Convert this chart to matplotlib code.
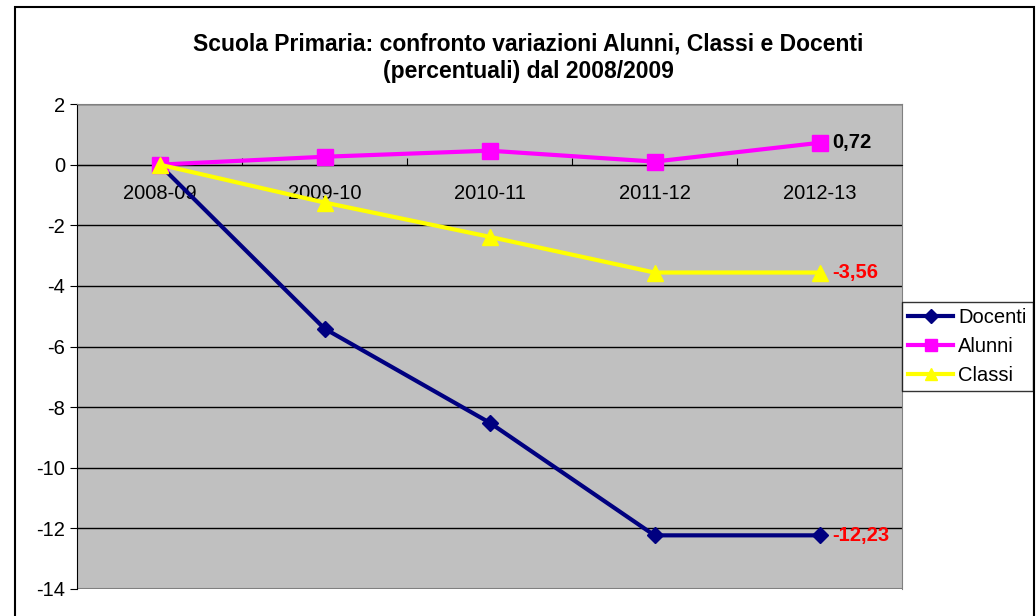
import matplotlib
matplotlib.use("Agg")
import matplotlib.pyplot as plt
import matplotlib.patches as mpatches
from matplotlib.lines import Line2D

plt.rcParams["font.family"] = ["Liberation Sans", "DejaVu Sans"]
plt.rcParams["axes.unicode_minus"] = False

years = ["2008-09", "2009-10", "2010-11", "2011-12", "2012-13"]
docenti = [0, -5.41, -8.51, -12.23, -12.23]
alunni = [0, 0.26, 0.46, 0.10, 0.72]
classi = [0, -1.25, -2.38, -3.56, -3.56]

NAVY, MAG, YEL, BG = "#000080", "#ff00ff", "#ffff00", "#c0c0c0"
FS = 14.5

fig = plt.figure(figsize=(10.36, 6.16), dpi=100)
ax = fig.add_axes([77 / 1036, 1 - 589 / 616, 825 / 1036, 485 / 616])
ax.set_facecolor(BG)

# outer chart frame (bottom edge lies below the image)
fig.patches.append(mpatches.Rectangle((15 / 1036, -0.05), (1034 - 15) / 1036, 1 - 7 / 616 + 0.05,
                                      transform=fig.transFigure, fill=False, ec="black", lw=1.5))

x = list(range(len(years)))
ax.plot(x, docenti, color=NAVY, lw=3, marker="D", ms=8, zorder=3)
ax.plot(x, alunni, color=MAG, lw=3, marker="s", ms=11, zorder=4)
ax.plot(x, classi, color=YEL, lw=3, marker="^", ms=11, zorder=5)

ax.set_xlim(-0.5, 4.5)
ax.set_ylim(-14, 2)
ax.set_yticks(range(-14, 3, 2))
ax.yaxis.grid(True, color="black", lw=1)
ax.set_axisbelow(True)
ax.tick_params(axis="y", labelsize=FS, length=5, direction="out")

# x axis crossing at zero, labels below that line
ax.spines["bottom"].set_position(("data", 0))
ax.spines["bottom"].set_color("black")
ax.set_xticks([0.5, 1.5, 2.5, 3.5])
ax.set_xticklabels([])
ax.set_xticks(x, minor=True)
ax.set_xticklabels(years, minor=True)
ax.tick_params(axis="x", which="major", length=5, direction="in", bottom=True)
ax.tick_params(axis="x", which="minor", length=0, labelsize=FS, pad=14)
for s in ["top", "right"]:
    ax.spines[s].set_color("#808080")
ax.spines["left"].set_color("black")
ax.axhline(-14, color="#808080", lw=1.5, zorder=1)

ax.text(4.08, 0.72, "0,72", fontsize=FS, fontweight="bold", color="black", va="center")
ax.text(4.08, -3.56, "-3,56", fontsize=FS, fontweight="bold", color="red", va="center")
ax.text(4.08, -12.23, "-12,23", fontsize=FS, fontweight="bold", color="red", va="center")

fig.text(528 / 1036, 1 - 58 / 616,
         "Scuola Primaria: confronto variazioni Alunni, Classi e Docenti\n(percentuali) dal 2008/2009",
         ha="center", va="center", fontsize=16.5, fontweight="bold", linespacing=1.25)

handles = [
    Line2D([], [], color=NAVY, lw=3, marker="D", ms=7, label="Docenti"),
    Line2D([], [], color=MAG, lw=3, marker="s", ms=8, label="Alunni"),
    Line2D([], [], color=YEL, lw=3, marker="^", ms=8, label="Classi"),
]
leg = ax.legend(handles=handles, loc="center left", bbox_to_anchor=(1.0, 0.5), fontsize=FS,
                frameon=True, fancybox=False, edgecolor="black", handlelength=2.25,
                borderpad=0.3, labelspacing=0.5, handletextpad=0.25, borderaxespad=0.0)
leg.get_frame().set_linewidth(1)

fig.savefig("out.png", dpi=100)
